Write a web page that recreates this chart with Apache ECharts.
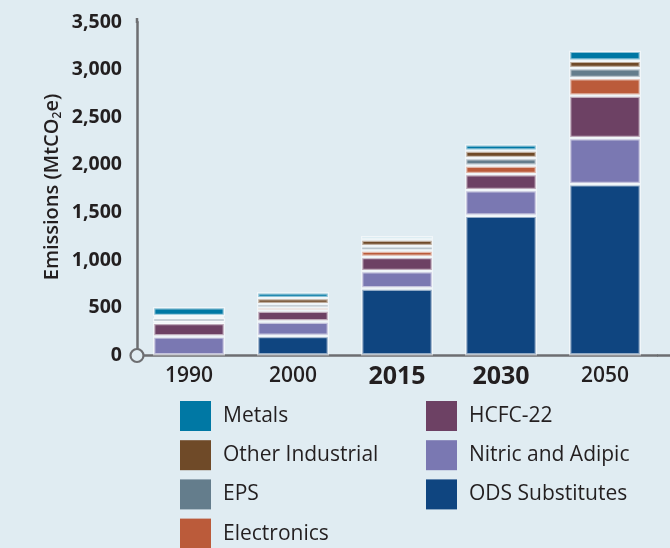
<!DOCTYPE html>
<html><head><meta charset="utf-8">
<script src="https://cdn.jsdelivr.net/npm/echarts@6/dist/echarts.min.js"></script>
<style>html,body{margin:0;padding:0;background:#e0ecf2}#c{width:670px;height:548px}</style>
</head><body><div id="c"></div>
<script>
// ---- data ----
const years = ['1990', '2000', '2015', '2030', '2050'];
const boldYears = ['2015', '2030'];
const odsSubstitutes = [null, 205, 703, 1467, 1798];
const nitricAdipic = [200, 152, 182, 269, 483];
const hcfc22 = [142, 115, 149, 168, 446];
const electronics = [10, 30, 68, 89, 184];
const eps = [42, 37, 45, 79, 105];
const otherIndustrial = [20, 63, 70, 78, 78];
const metals = [95, 61, 37, 66, 105];
const yMin = 0, yMax = 3500, yStep = 500;

const FONT = '"Open Sans", "Noto Sans", sans-serif';
const TXT = '#231f20';
const AX = '#6d6e71';
const BG = '#e0ecf2';
const GRID_LEFT = 137, GRID_RIGHT = 13, GRID_TOP = 22, GRID_BOTTOM = 192.5;

const colors = {
  'ODS Substitutes': '#0f4580',
  'Nitric and Adipic': '#7a78b2',
  'HCFC-22': '#6d4164',
  'Electronics': '#bb5b3a',
  'EPS': '#647d8c',
  'Other Industrial': '#6f4a28',
  'Metals': '#0078a4'
};

const stackDefs = [
  ['ODS Substitutes', odsSubstitutes],
  ['Nitric and Adipic', nitricAdipic],
  ['HCFC-22', hcfc22],
  ['Electronics', electronics],
  ['EPS', eps],
  ['Other Industrial', otherIndustrial],
  ['Metals', metals.map((v, i) => years[i] === '2015' ? {value: v, itemStyle: {color: '#a6d2df'}} : v)]
];

const series = stackDefs.map(([name, data]) => ({
  name, type: 'bar', stack: 'total', data, barWidth: 72,
  itemStyle: {color: colors[name], borderColor: 'rgba(255,255,255,0.55)', borderWidth: 2.4},
  emphasis: {disabled: true}
}));
// hollow origin marker on a hidden value x-axis
series.push({
  name: 'origin', type: 'scatter', xAxisIndex: 1, data: [[0, 0]],
  symbol: 'circle', symbolSize: 13, clip: false, silent: true, z: 20,
  itemStyle: {color: BG, borderColor: AX, borderWidth: 2.2, opacity: 1},
  emphasis: {disabled: true}
});

const legendText = {fontFamily: FONT, fontSize: 21, color: TXT, padding: [0, 0, 0, 7]};
const legendBase = {
  orient: 'vertical', top: 401, height: 180, padding: 0,
  itemWidth: 31, itemHeight: 30, itemGap: 9.2,
  icon: 'rect', selectedMode: false, textStyle: legendText,
  itemStyle: {borderWidth: 0}
};
const zeroYpx = 548 - GRID_BOTTOM;
const chart = echarts.init(document.getElementById('c'), null, {renderer: 'canvas'});
chart.setOption({
  backgroundColor: BG,
  animation: false,
  grid: {left: GRID_LEFT, right: GRID_RIGHT, top: GRID_TOP, bottom: GRID_BOTTOM, containLabel: false},
  xAxis: [{
    type: 'category', data: years,
    axisLine: {show: true, lineStyle: {color: AX, width: 2.5}},
    axisTick: {show: false},
    axisLabel: {
      margin: 7,
      formatter: v => boldYears.includes(v) ? '{b|' + v + '}' : '{r|' + v + '}',
      rich: {
        r: {fontFamily: FONT, fontSize: 21, fontWeight: 600, color: TXT, lineHeight: 28},
        b: {fontFamily: FONT, fontSize: 25, fontWeight: 700, color: TXT, lineHeight: 28}
      }
    }
  }, {
    type: 'value', min: 0, max: 1, show: false
  }],
  yAxis: {
    type: 'value', min: yMin, max: yMax, interval: yStep,
    axisLine: {show: true, lineStyle: {color: AX, width: 2.5}},
    axisTick: {show: false},
    splitLine: {show: false},
    axisLabel: {
      margin: 15, fontFamily: FONT, fontSize: 19.5, fontWeight: 700, color: TXT,
      formatter: v => v.toLocaleString('en-US')
    }
  },
  legend: [
    Object.assign({}, legendBase, {left: 180, data: ['Metals', 'Other Industrial', 'EPS', 'Electronics']}),
    Object.assign({}, legendBase, {left: 426, data: ['HCFC-22', 'Nitric and Adipic', 'ODS Substitutes']})
  ],
  graphic: [
    {
      type: 'line', shape: {x1: 670 - GRID_RIGHT, y1: zeroYpx, x2: 670, y2: zeroYpx},
      style: {stroke: AX, lineWidth: 2.5}, z: 10
    },
    {
      type: 'line', shape: {x1: GRID_LEFT, y1: GRID_TOP + 1, x2: GRID_LEFT, y2: GRID_TOP - 4},
      style: {stroke: AX, lineWidth: 2.5}, z: 10
    },
    {
      type: 'text', x: 52, y: 187, rotation: Math.PI / 2,
      style: {
        text: '{a|Emissions (MtCO}{s|2}{a|e)}',
        align: 'center', verticalAlign: 'middle',
        rich: {
          a: {fontFamily: FONT, fontSize: 20, fontWeight: 600, fill: TXT, lineHeight: 24},
          s: {fontFamily: FONT, fontSize: 12, fontWeight: 600, fill: TXT, lineHeight: 12, verticalAlign: 'bottom'}
        }
      }, z: 10
    }
  ],
  series
});
</script>
</body></html>
